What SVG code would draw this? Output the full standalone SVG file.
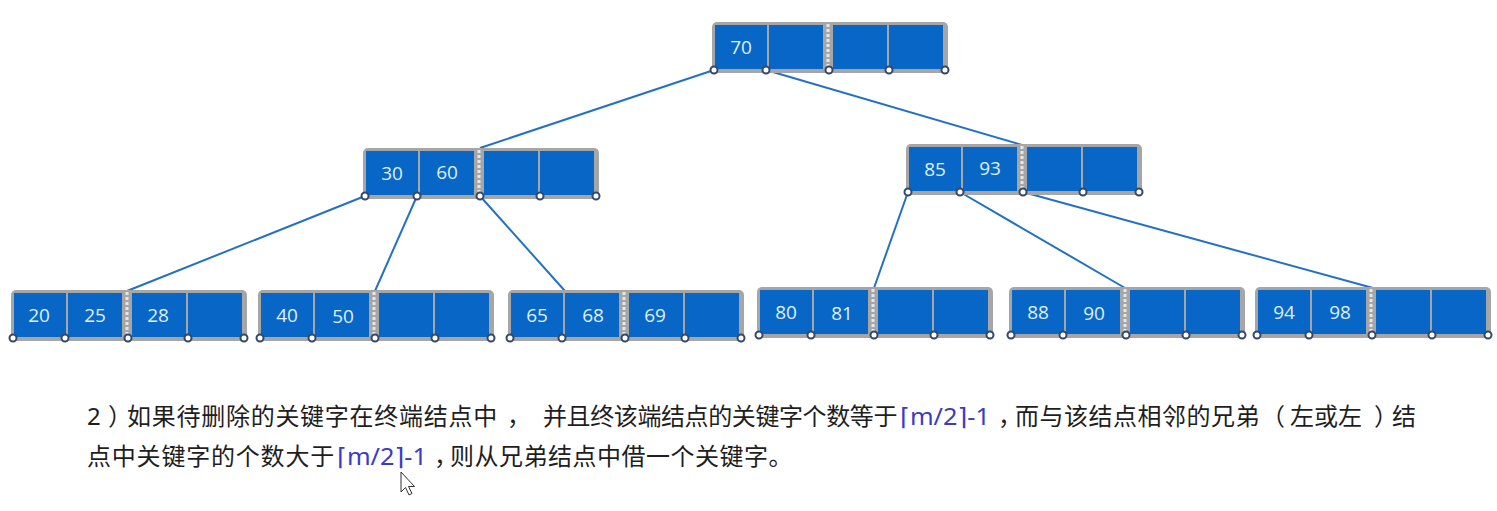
<svg xmlns="http://www.w3.org/2000/svg" xmlns:xlink="http://www.w3.org/1999/xlink" width="1497" height="511" viewBox="0 0 1497 511">
<style>
.frame{fill:#a6a6a6}
.cell{fill:#0867c6}
.sep{stroke:#e6e6e6;stroke-width:3;stroke-dasharray:3 2}
.pin{fill:#ffffff;stroke:#34486a;stroke-width:2}
.num{font-family:"Open Sans","Noto Sans",sans-serif;font-size:19px;fill:#dff0ff;text-anchor:middle}
.edge{stroke:#2271c3;stroke-width:2;fill:none}
.cn{font-family:"Noto Sans CJK SC","Noto Sans",sans-serif;font-size:24px;fill:#1e1e1e}
.lat{font-family:"Noto Sans","DejaVu Sans",sans-serif}
.pn{letter-spacing:-10px}
.hl{font-family:"Noto Sans","DejaVu Sans",sans-serif;font-size:24px;fill:#3b3bc6}
</style>
<defs>
<g id="nodeShape">
<rect class="frame" x="0" y="0" width="236" height="51" rx="5"/>
<rect class="cell" x="3" y="3" width="52" height="44"/>
<rect class="cell" x="57" y="3" width="54" height="44"/>
<rect class="cell" x="121" y="3" width="54" height="44"/>
<rect class="cell" x="177" y="3" width="54" height="44"/>
<line class="sep" x1="116" y1="2" x2="116" y2="46"/>
<circle class="pin" cx="2" cy="48" r="3.5"/>
<circle class="pin" cx="54" cy="48" r="3.5"/>
<circle class="pin" cx="117" cy="48" r="3.5"/>
<circle class="pin" cx="177" cy="48" r="3.5"/>
<circle class="pin" cx="233" cy="48" r="3.5"/>
</g>
</defs>
<rect width="1497" height="511" fill="#ffffff"/>
<g id="connectors">
<line class="edge" x1="714" y1="70" x2="480" y2="148"/>
<line class="edge" x1="766" y1="70" x2="1022" y2="145"/>
<line class="edge" x1="365" y1="196" x2="127" y2="291"/>
<line class="edge" x1="417" y1="196" x2="375" y2="291"/>
<line class="edge" x1="480" y1="196" x2="565" y2="291"/>
<line class="edge" x1="908" y1="192" x2="874" y2="288"/>
<line class="edge" x1="960" y1="192" x2="1125" y2="288"/>
<line class="edge" x1="1023" y1="192" x2="1373" y2="288"/>
</g>
<g id="node-root" transform="translate(712,22)">
<use xlink:href="#nodeShape"/>
<text class="num" x="29" y="32">70</text>
</g>
<g id="node-30-60" transform="translate(363,148)">
<use xlink:href="#nodeShape"/>
<text class="num" x="29" y="32">30</text>
<text class="num" x="84" y="31">60</text>
</g>
<g id="node-85-93" transform="translate(906,144)">
<use xlink:href="#nodeShape"/>
<text class="num" x="29" y="32">85</text>
<text class="num" x="84" y="31">93</text>
</g>
<g id="leaf-20-25-28" transform="translate(11,290)">
<use xlink:href="#nodeShape"/>
<text class="num" x="28" y="32">20</text>
<text class="num" x="84" y="32">25</text>
<text class="num" x="147" y="32">28</text>
</g>
<g id="leaf-40-50" transform="translate(258,290)">
<use xlink:href="#nodeShape"/>
<text class="num" x="29" y="32">40</text>
<text class="num" x="85" y="33">50</text>
</g>
<g id="leaf-65-68-69" transform="translate(508,290)">
<use xlink:href="#nodeShape"/>
<text class="num" x="29" y="32">65</text>
<text class="num" x="85" y="32">68</text>
<text class="num" x="147" y="32">69</text>
</g>
<g id="leaf-80-81" transform="translate(757,287)">
<use xlink:href="#nodeShape"/>
<text class="num" x="29" y="32">80</text>
<text class="num" x="85" y="33">81</text>
</g>
<g id="leaf-88-90" transform="translate(1009,287)">
<use xlink:href="#nodeShape"/>
<text class="num" x="29" y="32">88</text>
<text class="num" x="85" y="33">90</text>
</g>
<g id="leaf-94-98" transform="translate(1255,287)">
<use xlink:href="#nodeShape"/>
<text class="num" x="29" y="32">94</text>
<text class="num" x="85" y="32">98</text>
</g>
<g id="caption">
<text class="cn" y="425"><tspan class="lat" x="87">2</tspan><tspan class="pn" x="108">）</tspan><tspan x="127" letter-spacing="0.73">如果待删除的关键字在终端结点中</tspan><tspan class="pn" x="507">，</tspan><tspan x="543" letter-spacing="-0.4">并且终该端结点的关键字个数等于</tspan></text>
<text class="hl" x="900" y="425" textLength="90" lengthAdjust="spacingAndGlyphs">⌈m/2⌉-1</text>
<text class="cn" y="425"><tspan class="pn" x="998">，</tspan><tspan x="1015" letter-spacing="0.5">而与该结点相邻的兄弟</tspan><tspan x="1261">（</tspan><tspan x="1290">左或左</tspan><tspan class="pn" x="1374">）</tspan><tspan x="1392">结</tspan></text>
<text class="cn" x="87" y="465" letter-spacing="0.8">点中关键字的个数大于</text>
<text class="hl" x="337" y="465" textLength="90" lengthAdjust="spacingAndGlyphs">⌈m/2⌉-1</text>
<text class="cn" y="465"><tspan class="pn" x="434">，</tspan><tspan x="450" letter-spacing="0.5">则从兄弟结点中借一个关键字。</tspan></text>
</g>
<path id="cursor" d="M401,472 L401,492 L405.5,487.5 L409,495 L412,493.5 L408.5,486.5 L414.5,486.5 Z" fill="#ffffff" stroke="#333333" stroke-width="1"/>
</svg>
